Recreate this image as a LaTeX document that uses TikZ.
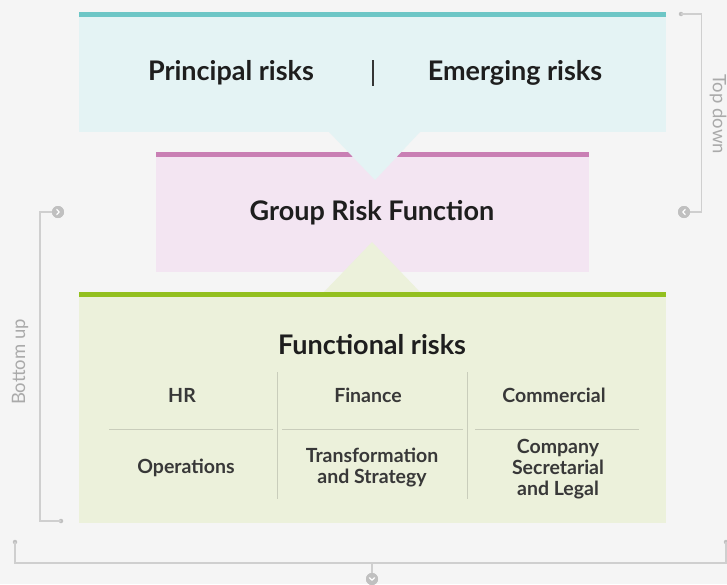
\documentclass[tikz,border=0pt]{standalone}
\usepackage{fontspec}
\setmainfont{Lato}
\usetikzlibrary{calc}
\definecolor{bgc}{HTML}{F5F5F5}
\definecolor{tealbar}{HTML}{6DC6C6}
\definecolor{topfill}{HTML}{E4F3F4}
\definecolor{pinkbar}{HTML}{C97FB4}
\definecolor{midfill}{HTML}{F3E5F2}
\definecolor{greenbar}{HTML}{93C01F}
\definecolor{botfill}{HTML}{ECF1DB}
\definecolor{txt}{HTML}{1E1E1E}
\definecolor{gridtxt}{HTML}{383838}
\definecolor{gridline}{HTML}{C9CDBB}
\definecolor{brack}{HTML}{CFCFCF}
\definecolor{dotc}{HTML}{C0C0C0}
\definecolor{sidetxt}{HTML}{AAAAAA}
\tikzset{
  boxnode/.style={rectangle, inner sep=0pt, outer sep=0pt, draw=none},
  headtxt/.style={text=txt, font=\fontsize{27}{32}\selectfont\bfseries, inner sep=0pt},
  celltxt/.style={text=gridtxt, font=\fontsize{19.5}{21}\selectfont\bfseries, align=center, inner sep=0pt},
  sidelabel/.style={text=sidetxt, font=\fontsize{18.5}{22}\selectfont, inner sep=0pt},
  gridrule/.style={draw=gridline, line width=1pt},
  bracketline/.style={draw=brack, line width=1.3pt},
  enddot/.style={circle, fill=dotc, inner sep=0pt, minimum size=4.5pt},
  chevcircle/.style={circle, fill=dotc, inner sep=0pt, minimum size=12pt},
  chev/.style={draw=white, line width=1.2pt, line cap=round, line join=round},
}
\begin{document}
\begin{tikzpicture}[x=1pt,y=-1pt]
\fill[bgc] (0,0) rectangle (727,584);
\useasboundingbox (0,0) rectangle (727,584);

% middle box
\node[boxnode, fill=midfill, minimum width=433pt, minimum height=120pt] (mid) at (372.5,212) {};
\fill[pinkbar] (mid.north west) rectangle ($(mid.north east)+(0,5)$);

% top box with downward triangle
\node[boxnode, fill=topfill, minimum width=587pt, minimum height=120pt] (top) at (372.5,72) {};
\fill[tealbar] (top.north west) rectangle ($(top.north east)+(0,5)$);
\coordinate (tA) at (329,132);
\coordinate (tB) at (420,132);
\coordinate (tC) at (375,180);
\fill[topfill] (tA) -- (tC) -- (tB) -- cycle;

% bottom box with upward triangle
\node[boxnode, fill=botfill, minimum width=587pt, minimum height=231pt] (bot) at (372.5,407.5) {};
\coordinate (bA) at (323,293);
\coordinate (bB) at (421,293);
\coordinate (bC) at (372,242);
\fill[botfill] (bA) -- (bC) -- (bB) -- cycle;
\fill[greenbar] (bot.north west) rectangle ($(bot.north east)+(0,5)$);

% texts
\node[headtxt] (principal) at (231,73) {Principal risks};
\node[headtxt] (emerging) at (515,73) {Emerging risks};
\coordinate (divT) at (373,60);
\coordinate (divB) at (373,86);
\draw[draw=txt!90, line width=1.3pt] (divT) -- (divB);
\node[headtxt] (group) at (372,213) {Group Risk Function};
\node[headtxt] (functional) at (372,345) {Functional risks};

% grid
\coordinate (v1t) at (277.5,372);
\coordinate (v1b) at (277.5,499);
\coordinate (v2t) at (467.5,372);
\coordinate (v2b) at (467.5,499);
\draw[gridrule] (v1t) -- (v1b);
\draw[gridrule] (v2t) -- (v2b);
\coordinate (h1a) at (109,429);
\coordinate (h1b) at (273,429);
\coordinate (h2a) at (282,429);
\coordinate (h2b) at (462.5,429);
\coordinate (h3a) at (475,429);
\coordinate (h3b) at (639,429);
\draw[gridrule] (h1a) -- (h1b);
\draw[gridrule] (h2a) -- (h2b);
\draw[gridrule] (h3a) -- (h3b);

\node[celltxt] (hr) at (182,395) {HR};
\node[celltxt] (finance) at (368,395) {Finance};
\node[celltxt] (commercial) at (554,395) {Commercial};
\node[celltxt] (operations) at (186,468) {Operations};
\node[celltxt] (transformation) at (372,468) {Transformation\\and Strategy};
\node[celltxt] (company) at (558,469) {Company\\Secretarial\\and Legal};

% right bracket: top down
\node[enddot] (rdot) at (681,14) {};
\node[chevcircle] (rcirc) at (684,212) {};
\coordinate (rc1) at (701.5,14);
\coordinate (rc2) at (701.5,212);
\draw[bracketline] (rdot.center) -- (rc1) -- (rc2) -- (rcirc.center);
\node[chevcircle] at (684,212) {};
\draw[chev] ($(rcirc.center)+(1.3,-2.6)$) -- ($(rcirc.center)+(-1.3,0)$) -- ($(rcirc.center)+(1.3,2.6)$);
\node[sidelabel, rotate=-90] (topdown) at (718,114) {Top down};

% left bracket: bottom up
\node[chevcircle] (lcirc) at (58,212) {};
\node[enddot] (ldot) at (61,521) {};
\coordinate (lc1) at (40,212);
\coordinate (lc2) at (40,521);
\draw[bracketline] (lcirc.center) -- (lc1) -- (lc2) -- (ldot.center);
\node[chevcircle] at (58,212) {};
\draw[chev] ($(lcirc.center)+(-1.3,-2.6)$) -- ($(lcirc.center)+(1.3,0)$) -- ($(lcirc.center)+(-1.3,2.6)$);
\node[sidelabel, rotate=90] (bottomup) at (20,362) {Bottom up};

% bottom bracket
\node[enddot] (bdotL) at (15,542) {};
\node[enddot] (bdotR) at (726,542) {};
\coordinate (bl) at (15,563);
\coordinate (br) at (726,563);
\coordinate (bm) at (372,563);
\node[chevcircle] (bcirc) at (372,579) {};
\draw[bracketline] (bdotL.center) -- (bl) -- (br) -- (bdotR.center);
\draw[bracketline] (bm) -- (bcirc.center);
\node[chevcircle] at (372,579) {};
\draw[chev] ($(bcirc.center)+(-2.6,-1.3)$) -- ($(bcirc.center)+(0,1.3)$) -- ($(bcirc.center)+(2.6,-1.3)$);
\end{tikzpicture}
\end{document}
